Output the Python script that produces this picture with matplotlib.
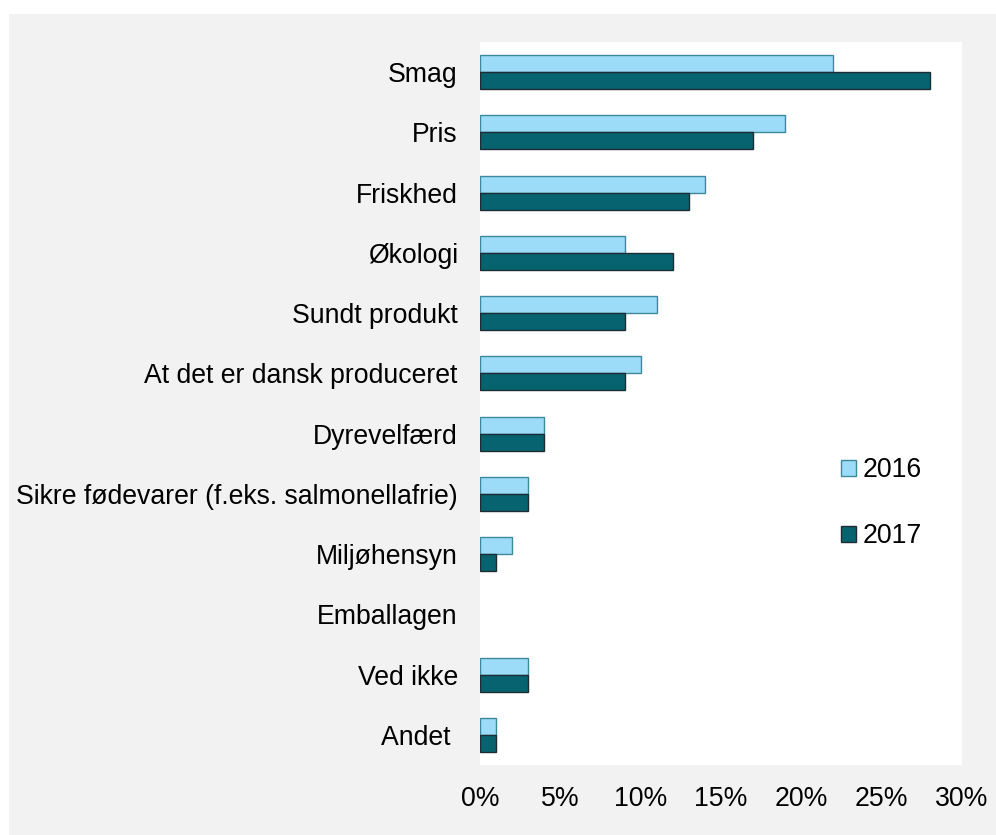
import matplotlib
matplotlib.use("Agg")
import matplotlib.pyplot as plt
import numpy as np
from matplotlib.patches import Rectangle
from matplotlib.ticker import FuncFormatter

categories = ["Smag", "Pris", "Friskhed", "Økologi", "Sundt produkt",
              "At det er dansk produceret", "Dyrevelfærd",
              "Sikre fødevarer (f.eks. salmonellafrie)", "Miljøhensyn",
              "Emballagen", "Ved ikke", "Andet "]
v2016 = [22, 19, 14, 9, 11, 10, 4, 3, 2, 0, 3, 1]
v2017 = [28, 17, 13, 12, 9, 9, 4, 3, 1, 0, 3, 1]
xticks = [0, 5, 10, 15, 20, 25, 30]

plt.rcParams['font.family'] = ['Liberation Sans', 'DejaVu Sans']
FS = 19.2

W, H = 996, 835
fig = plt.figure(figsize=(W / 100, H / 100), dpi=100)
fig.patch.set_facecolor("white")
fig.add_artist(Rectangle((9 / W, 0), 1 - 9 / W, (H - 14) / H,
                         transform=fig.transFigure, facecolor="#f2f2f2",
                         edgecolor="none", zorder=0))

ax = fig.add_axes([480 / W, 1 - 765 / H, (962 - 480) / W, (765 - 42) / H])
ax.set_facecolor("white")

n = len(categories)
y = np.arange(n)
h = 0.283
lw16 = [1.0 if v > 0 else 0 for v in v2016]
lw17 = [1.0 if v > 0 else 0 for v in v2017]
ax.barh(y - h / 2, v2016, height=h, color="#9ddcf8", edgecolor="#3b8a9c",
        linewidth=lw16, label="2016", zorder=3)
ax.barh(y + h / 2, v2017, height=h, color="#07636f", edgecolor="#1d2d33",
        linewidth=lw17, label="2017", zorder=3)

ax.set_ylim(n - 0.5, -0.5)
ax.set_xlim(0, 30)
ax.set_yticks(y)
ax.set_yticklabels(categories, fontsize=FS)
ax.set_xticks(xticks)
ax.xaxis.set_major_formatter(FuncFormatter(lambda v, p: f"{v:.0f}%"))
ax.tick_params(axis="x", labelsize=FS, length=0, pad=15)
ax.tick_params(axis="y", length=0, pad=16)
for s in ax.spines.values():
    s.set_visible(False)

leg = ax.legend(loc="upper left",
                bbox_to_anchor=((828 - 480) / (962 - 480), 1 - (444 - 42) / (765 - 42)),
                frameon=False, fontsize=FS, handlelength=0.55, handleheight=0.55,
                handletextpad=0.25, labelspacing=1.5, borderpad=0)
for hnd in leg.legend_handles:
    hnd.set_linewidth(1.0)

fig.savefig("out.png", dpi=100, facecolor=fig.get_facecolor())
